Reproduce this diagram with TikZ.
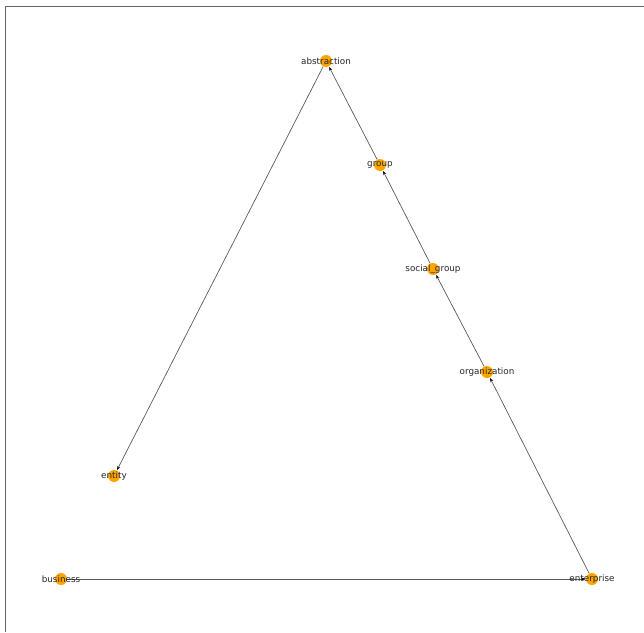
\documentclass[tikz,border=0pt]{standalone}
\usepackage{fontspec}
\setmainfont{DejaVu Sans}
\usetikzlibrary{arrows.meta}

\begin{document}
\begin{tikzpicture}[x=1pt, y=-1pt,
  vtx/.style={circle, fill={rgb,255:red,255;green,165;blue,0}, inner sep=0pt, minimum size=12pt},
  lbl/.style={font=\fontsize{8.8}{10}\selectfont, text=black!85, inner sep=0pt},
  arc/.style={draw=black!65, line width=0.7pt, shorten >=0.5pt, -{Stealth[length=4pt,width=3pt,black]}}]
\useasboundingbox (0,0) rectangle (644,632);
\draw[black!60, line width=0.8pt] (5,632) |- (644,6);
% vertices
\node[vtx] (abstraction) at (326,61) {};
\node[vtx] (group) at (380,165) {};
\node[vtx] (social) at (433,269) {};
\node[vtx] (organization) at (487,372) {};
\node[vtx] (entity) at (114,476) {};
\node[vtx] (business) at (61,579) {};
\node[vtx] (enterprise) at (592,579) {};
% arcs
\draw[arc] (abstraction) -- (entity);
\draw[arc] (group) -- (abstraction);
\draw[arc] (social) -- (group);
\draw[arc] (organization) -- (social);
\draw[arc] (enterprise) -- (organization);
\draw[arc] (business) -- (enterprise);
% labels
\node[lbl] (abstraction-l) at (abstraction) {abstraction};
\node[lbl] (group-l) at (group) {group};
\node[lbl] (social-l) at (social) {social\_group};
\node[lbl] (organization-l) at (organization) {organization};
\node[lbl] (entity-l) at (entity) {entity};
\node[lbl] (business-l) at (business) {business};
\node[lbl] (enterprise-l) at (enterprise) {enterprise};
\end{tikzpicture}
\end{document}
